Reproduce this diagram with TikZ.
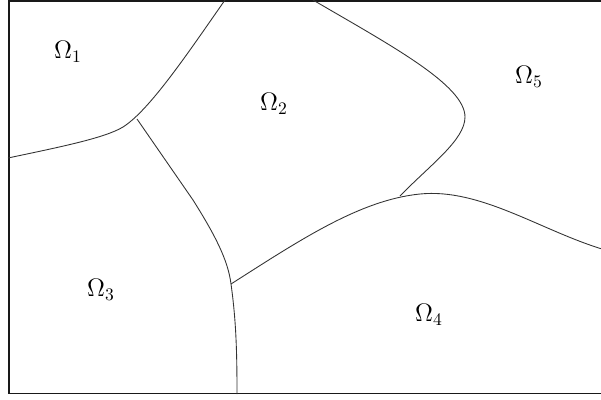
\documentclass[tikz,border=0pt]{standalone}
\usepackage{amsmath,amssymb}
\usepackage{tikz}
\usetikzlibrary{calc}

\begin{document}
\begin{tikzpicture}[
  x=0.02cm, y=-0.02cm,
  frame/.style={line width=0.9pt, black!90},
  boundary/.style={line width=0.5pt, black!80},
  region/.style={inner sep=0pt, font=\Large}
]
  \useasboundingbox (0,0) rectangle (601,399);

  % Outer frame (open to the right)
  \draw[frame] (605,1) -- (9,1) -- (9,393.5) -- (605,393.5);

  % Junction points
  \coordinate (j12) at (137,119);
  \coordinate (j34) at (231,284);
  \coordinate (j45) at (400,196);

  % Boundary between Omega_1 and Omega_2
  \draw[boundary] (225,0) .. controls (190,50) and (150,110) .. (123,127)
    .. controls (105,138) and (60,147) .. (8,158);

  % Boundary between Omega_2 and Omega_3, down to the bottom
  \draw[boundary] (j12) -- (193,200) .. controls (215,235) and (228,260) .. (j34)
    .. controls (236,320) and (237,350) .. (237,394);

  % Boundary below Omega_2 and Omega_5
  \draw[boundary] (j34) .. controls (300,240) and (360,200) .. (420,194)
    .. controls (480,188) and (540,230) .. (602,249);

  % Boundary between Omega_2 and Omega_5
  \draw[boundary] (313,0) .. controls (390,45) and (465,85) .. (465,117)
    .. controls (465,140) and (430,165) .. (j45);

  % Labels
  \node[region] (om1) at (68,52) {$\Omega_1$};
  \node[region] (om2) at (274,104) {$\Omega_2$};
  \node[region] (om3) at (101,290) {$\Omega_3$};
  \node[region] (om4) at (429,315) {$\Omega_4$};
  \node[region] (om5) at (529,77) {$\Omega_5$};
\end{tikzpicture}
\end{document}
